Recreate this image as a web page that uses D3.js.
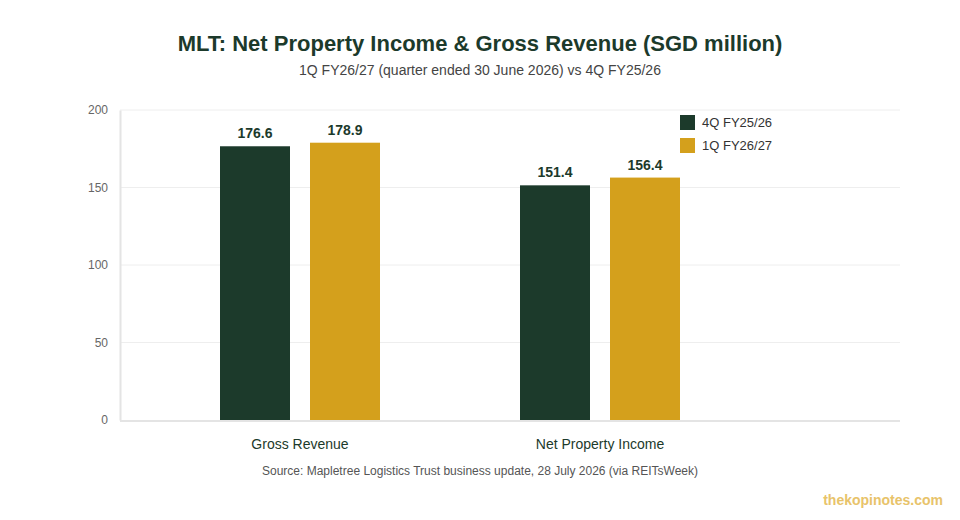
<!DOCTYPE html>
<html>
<head>
<meta charset="utf-8">
<script src="https://cdn.jsdelivr.net/npm/d3@7"></script>
<style>
  body { margin: 0; background: #fff; }
  svg { font-family: "Liberation Sans", Arial, sans-serif; }
</style>
</head>
<body>
<svg id="chart" width="960" height="520"></svg>
<script>
// Data
const categories = ["Gross Revenue", "Net Property Income"];
const seriesNames = ["4Q FY25/26", "1Q FY26/27"];
const prevQuarter = [176.6, 151.4];
const currQuarter = [178.9, 156.4];
const yTicks = [0, 50, 100, 150, 200];

const colors = ["#1c3a2b", "#d4a01c"];
const textDark = "#1c3a2b";

const svg = d3.select("#chart");

// Plot area
const plotLeft = 120, plotRight = 900, plotTop = 110, plotBottom = 420;

const x = d3.scaleBand().domain(categories).range([150, 750]);
const x1 = d3.scaleBand().domain(seriesNames)
    .range([x.bandwidth() / 2 - 80, x.bandwidth() / 2 + 80])
    .paddingInner(2 / 9);
const y = d3.scaleLinear().domain([0, 200]).range([plotBottom, plotTop]);

// Title
svg.append("text")
    .attr("x", 480).attr("y", 51)
    .attr("text-anchor", "middle")
    .attr("font-size", 22).attr("font-weight", "bold")
    .attr("fill", textDark)
    .text("MLT: Net Property Income & Gross Revenue (SGD million)");

svg.append("text")
    .attr("x", 480).attr("y", 75)
    .attr("text-anchor", "middle")
    .attr("font-size", 14).attr("fill", "#444")
    .text("1Q FY26/27 (quarter ended 30 June 2026) vs 4Q FY25/26");

// Gridlines
svg.append("g")
    .selectAll("line")
    .data(yTicks.filter(d => d > 0))
    .join("line")
    .attr("x1", plotLeft).attr("x2", plotRight)
    .attr("y1", d => y(d)).attr("y2", d => y(d))
    .attr("stroke", "#eeeeee").attr("stroke-width", 1);

// Y axis
const yAxis = svg.append("g")
    .attr("transform", `translate(${plotLeft},0)`)
    .call(d3.axisLeft(y).tickValues(yTicks).tickSize(0).tickPadding(12));
yAxis.select(".domain").attr("stroke", "#e4e4e4").attr("stroke-width", 2);
yAxis.selectAll("text").attr("font-size", 12).attr("fill", "#666")
    .attr("font-family", "Liberation Sans, Arial, sans-serif");

// X baseline
svg.append("line")
    .attr("x1", plotLeft).attr("x2", plotRight)
    .attr("y1", plotBottom + 1).attr("y2", plotBottom + 1)
    .attr("stroke", "#e4e4e4").attr("stroke-width", 2);

// Bars
const rows = categories.map((c, i) => ({
    cat: c,
    vals: [
        { s: seriesNames[0], v: prevQuarter[i], c: colors[0] },
        { s: seriesNames[1], v: currQuarter[i], c: colors[1] }
    ]
}));

const groups = svg.append("g")
    .selectAll("g")
    .data(rows)
    .join("g")
    .attr("transform", d => `translate(${x(d.cat)},0)`);

groups.selectAll("rect")
    .data(d => d.vals)
    .join("rect")
    .attr("x", d => x1(d.s))
    .attr("width", x1.bandwidth())
    .attr("y", d => y(d.v))
    .attr("height", d => y(0) - y(d.v))
    .attr("fill", d => d.c);

groups.selectAll("text.val")
    .data(d => d.vals)
    .join("text")
    .attr("class", "val")
    .attr("x", d => x1(d.s) + x1.bandwidth() / 2)
    .attr("y", d => y(d.v) - 8)
    .attr("text-anchor", "middle")
    .attr("font-size", 14).attr("font-weight", "bold")
    .attr("fill", textDark)
    .text(d => d.v.toFixed(1));

// Category labels
svg.append("g")
    .selectAll("text")
    .data(categories)
    .join("text")
    .attr("x", d => x(d) + x.bandwidth() / 2)
    .attr("y", 449)
    .attr("text-anchor", "middle")
    .attr("font-size", 14).attr("fill", textDark)
    .text(d => d);

// Legend
const legend = svg.append("g").attr("transform", "translate(680,115)");
seriesNames.forEach((s, i) => {
    legend.append("rect")
        .attr("x", 0).attr("y", i * 23)
        .attr("width", 15).attr("height", 15)
        .attr("fill", colors[i]);
    legend.append("text")
        .attr("x", 22).attr("y", i * 23 + 12)
        .attr("font-size", 13).attr("fill", "#333")
        .text(s);
});

// Source
svg.append("text")
    .attr("x", 480).attr("y", 475)
    .attr("text-anchor", "middle")
    .attr("font-size", 12).attr("fill", "#555")
    .text("Source: Mapletree Logistics Trust business update, 28 July 2026 (via REITsWeek)");

// Watermark
svg.append("text")
    .attr("x", 943).attr("y", 505)
    .attr("text-anchor", "end")
    .attr("font-size", 14).attr("font-weight", "bold")
    .attr("fill", "#e8c36a")
    .text("thekopinotes.com");
</script>
</body>
</html>
